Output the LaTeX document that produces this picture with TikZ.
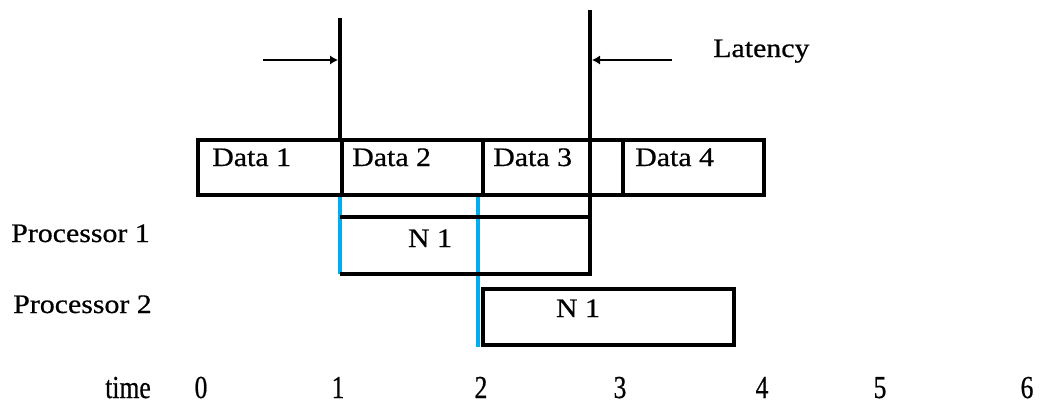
\documentclass[tikz,border=0pt]{standalone}
\usepackage{fontspec}
\setmainfont{Liberation Serif}[FakeStretch=1.12,FakeBold=0.6]
\newfontfamily\axisfont{Liberation Serif}[FakeStretch=0.8,FakeBold=0.6]
\usetikzlibrary{arrows.meta}
\definecolor{cyanline}{RGB}{0,174,239}
\begin{document}
\begin{tikzpicture}[x=0.75pt,y=-0.75pt,
  lbl/.style={anchor=base west, inner sep=0pt, font=\fontsize{20}{24}\selectfont},
  ctr/.style={anchor=base, inner sep=0pt, font=\fontsize{20}{24}\selectfont},
  ax/.style={anchor=base, inner sep=0pt, font=\axisfont\fontsize{24}{28}\selectfont},
  cell/.style={draw, line width=3pt, anchor=north west, inner sep=0pt, minimum height=41.25pt},
  bar/.style={line width=3pt},
  cyanbar/.style={cyanline, line width=2.4pt},
  thin/.style={line width=1.5pt, -{Latex[length=6pt,width=7pt]}}]
\useasboundingbox (0,0) rectangle (1043,407);
% coordinates
\coordinate (c1t) at (340,193);
\coordinate (c1b) at (340,274);
\coordinate (c2t) at (478,193);
\coordinate (c2b) at (478,347);
\coordinate (p1tl) at (340,217);
\coordinate (p1tr) at (590,217);
\coordinate (p1bl) at (340,274);
\coordinate (p1br) at (590,274);
\coordinate (s1t) at (340,18);
\coordinate (s1b) at (340,140);
\coordinate (lt) at (590,10);
\coordinate (lb) at (590,276);
\coordinate (a1s) at (263,60);
\coordinate (a1e) at (338,60);
\coordinate (a2s) at (672,60);
\coordinate (a2e) at (592,60);
% cyan lines
\draw[cyanbar] (c1t) -- (c1b);
\draw[cyanbar] (c2t) -- (c2b);
% data cells
\node[cell, minimum width=108pt] (d1) at (196,138) {};
\node[cell, minimum width=105.75pt] (d2) at (340,138) {};
\node[cell, minimum width=105pt] (d3) at (481,138) {};
\node[cell, minimum width=105.75pt] (d4) at (621,138) {};
\node[lbl] (t1) at (212,166) {Data 1};
\node[lbl] (t2) at (352,166) {Data 2};
\node[lbl] (t3) at (493,166) {Data 3};
\node[lbl] (t4) at (635,166) {Data 4};
% processor 1
\draw[bar] (p1tl) -- (p1tr);
\draw[bar] (p1bl) -- (p1br);
\node[ctr] (n1) at (430,247) {N 1};
% processor 2
\node[cell, minimum width=188.25pt, minimum height=42pt] (p2) at (481,287) {};
\node[ctr] (n2) at (578,317) {N 1};
% vertical markers
\draw[bar] (s1t) -- (s1b);
\draw[bar] (lt) -- (lb);
\draw[thin] (a1s) -- (a1e);
\draw[thin] (a2s) -- (a2e);
\node[lbl] (lat) at (713,57) {Latency};
% row labels
\node[lbl] (r1) at (11,242) {Processor 1};
\node[lbl] (r2) at (13,313) {Processor 2};
% time axis
\node[ax] (tm) at (128,398) {time};
\node[ax] (x0) at (201,398) {0};
\node[ax] (x1) at (338,398) {1};
\node[ax] (x2) at (481,398) {2};
\node[ax] (x3) at (620,398) {3};
\node[ax] (x4) at (762,398) {4};
\node[ax] (x5) at (880,398) {5};
\node[ax] (x6) at (1027,398) {6};
\end{tikzpicture}
\end{document}
